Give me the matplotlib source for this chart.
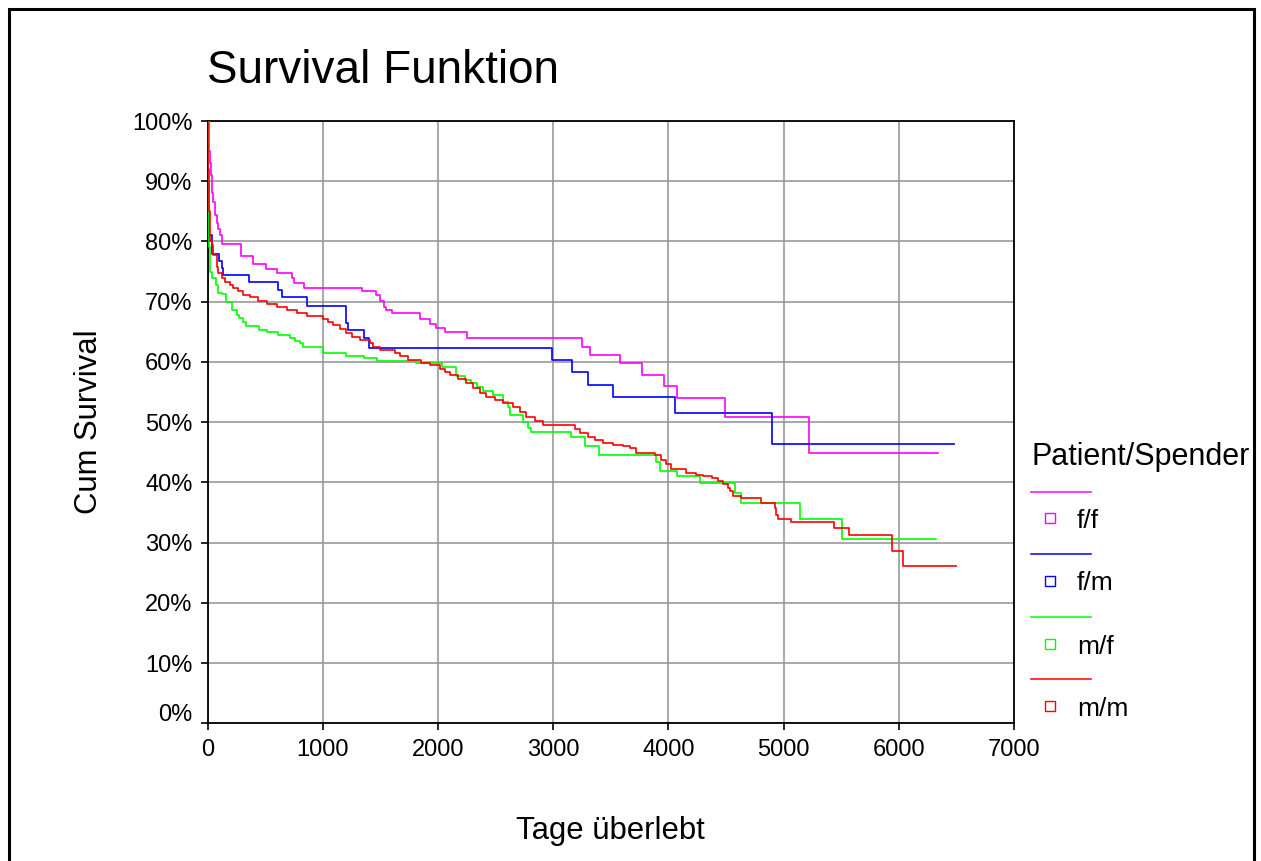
import matplotlib
matplotlib.use("Agg")
import matplotlib.pyplot as plt
from matplotlib.lines import Line2D
from matplotlib.patches import Rectangle
from matplotlib.transforms import ScaledTranslation

plt.rcParams['font.family'] = ['Liberation Sans', 'DejaVu Sans']

# ---- data (days, cumulative survival %) ----
ff_t = [0, 8, 18, 28, 40, 49, 60, 78, 92, 105, 120, 286, 390, 506, 604, 728, 749, 835,
        1341, 1457, 1500, 1530, 1547, 1596, 1841, 1928, 1986, 2064, 2252, 3249, 3316,
        3576, 3770, 3961, 4074, 4487, 5216, 6343]
ff_s = [100, 95, 93, 91, 88, 86.6, 84.4, 83, 82, 81, 79.5, 77.6, 76.2, 75.4, 74.7, 74.0, 73.1, 72.3,
        71.7, 71.1, 70.1, 69.2, 68.6, 68.1, 67.1, 66.3, 65.6, 64.9, 63.9, 62.5, 61.1,
        59.8, 57.8, 56.0, 54.0, 50.8, 44.8, 44.8]

fm_t = [0, 5, 15, 35, 101, 121, 135, 361, 613, 642, 864, 1197, 1215, 1356, 1402, 2992,
        3166, 3305, 3518, 4059, 4901, 6476]
fm_s = [100, 85, 81, 77.9, 76.7, 75.6, 74.4, 73.2, 72.0, 70.7, 69.3, 66.5, 65.3, 63.9, 62.3, 60.4,
        58.4, 56.2, 54.2, 51.5, 46.4, 46.4]

mf_t = [0, 4, 8, 14, 22, 35, 72, 92, 121, 159, 208, 251, 274, 303, 332, 448, 512, 613, 714,
        757, 801, 830, 997, 1200, 1356, 1471, 1807, 2030, 2154, 2230, 2290, 2340, 2391, 2478,
        2565, 2610, 2628, 2738, 2780, 2810, 3157, 3273, 3397, 3895, 3929, 4073, 4270, 4580,
        4632, 5138, 5508, 6323]
mf_s = [100, 90, 84, 79, 75, 73.9, 72.8, 71.5, 71.3, 70.0, 68.6, 67.8, 67.3, 66.7, 65.9, 65.3,
        64.9, 64.5, 63.9, 63.5, 63.1, 62.5, 61.5, 61.0, 60.6, 60.2, 59.8, 59.2, 57.6, 57.0, 56.5,
        55.9, 55.2, 54.5, 53.4, 52.5, 51.2, 50.1, 49.0, 48.4, 47.5, 46.1, 44.6, 43.4, 41.9, 41.0,
        39.9, 38.2, 36.6, 33.9, 30.6, 30.6]

mm_t = [0, 5, 10, 20, 35, 49, 78, 92, 121, 150, 193, 222, 266, 309, 367, 439, 512, 598, 685,
        772, 859, 1003, 1046, 1090, 1148, 1205, 1249, 1321, 1408, 1436, 1494, 1624, 1667,
        1739, 1855, 1927, 2014, 2058, 2101, 2173, 2240, 2300, 2362, 2420, 2492, 2565, 2651,
        2709, 2767, 2839, 2911, 3186, 3229, 3302, 3360, 3432, 3519, 3605, 3663, 3721, 3880,
        3938, 3981, 4025, 4155, 4242, 4300, 4380, 4429, 4473, 4516, 4537, 4560, 4632, 4805,
        4921, 4935, 4950, 5066, 5441, 5571, 5940, 6033, 6496]
mm_s = [100, 92, 85, 80, 79.4, 77.8, 75.8, 74.7, 73.9, 73.3, 72.8, 72.2, 71.8, 71.1, 70.7,
        70.1, 69.6, 69.1, 68.6, 68.2, 67.7, 67.1, 66.7, 66.2, 65.4, 64.8, 64.1, 63.7, 63.2,
        62.5, 62.0, 61.4, 60.9, 60.3, 59.9, 59.5, 58.9, 58.4, 57.8, 57.1, 56.5, 55.6, 54.9,
        54.2, 53.7, 53.1, 52.5, 51.7, 50.9, 50.2, 49.5, 48.9, 48.2, 47.6, 47.0, 46.5, 46.2,
        46.0, 45.7, 44.9, 44.6, 43.7, 43.0, 42.3, 41.6, 41.2, 41.0, 40.7, 40.2, 39.7, 39.0,
        38.5, 37.8, 37.4, 36.6, 35.7, 34.6, 34.0, 33.5, 32.4, 31.2, 28.6, 26.1, 26.1]

series_labels = ['f/f', 'f/m', 'm/f', 'm/m']
series_colors = ['#FF00FF', '#0000FF', '#00FF00', '#FF0000']
x_ticks = [0, 1000, 2000, 3000, 4000, 5000, 6000, 7000]
y_ticks = [0, 10, 20, 30, 40, 50, 60, 70, 80, 90, 100]
y_tick_labels = [f'{v}%' for v in y_ticks]

W, H = 1261, 861
fig = plt.figure(figsize=(W / 100, H / 100), dpi=100)
ax = fig.add_axes([207.7 / W, 1 - 723.3 / H, (1014 - 207.7) / W, (723.3 - 121) / H])

for (t, s), c in zip([(ff_t, ff_s), (fm_t, fm_s), (mf_t, mf_s), (mm_t, mm_s)], series_colors):
    ax.step(t, s, where='post', color=c, lw=1.2, zorder=3)

ax.set_xlim(0, 7000)
ax.set_ylim(0, 100)
ax.set_xticks(x_ticks)
ax.set_yticks(y_ticks)
ax.set_yticklabels(y_tick_labels)
ax.grid(True, color='#999999', lw=1.2)
ax.set_axisbelow(True)
for sp in ax.spines.values():
    sp.set_color('black')
    sp.set_linewidth(1.3)
ax.tick_params(direction='out', length=5, width=1.2, labelsize=17, pad=6, colors='black')

# shift "0%" label up like the reference
lbl0 = ax.get_yticklabels()[0]
lbl0.set_transform(lbl0.get_transform() + ScaledTranslation(0, 11 / 100, fig.dpi_scale_trans))

ax.set_xlabel('Tage überlebt', fontsize=22.3, labelpad=40)
ax.set_ylabel('Cum Survival', fontsize=22.3, labelpad=20)

fig.text(207 / W, 1 - 71 / H, 'Survival Funktion', fontsize=33, ha='left', va='center')

# legend (manual layout)
fig.text(1031 / W, 1 - 457 / H, 'Patient/Spender', fontsize=22, ha='left', va='center')
line_y = [491.7, 554, 617.3, 679.3]
for lab, c, ly in zip(series_labels, series_colors, line_y):
    fig.add_artist(Line2D([1031 / W, 1091 / W], [1 - ly / H, 1 - ly / H], color=c, lw=1.1,
                          transform=fig.transFigure))
    my = ly + 26.5
    fig.add_artist(Line2D([1050 / W], [1 - my / H], marker='s', markersize=6.5, mfc='white',
                          mec=c, mew=1.0, lw=0, transform=fig.transFigure))
    fig.text(1077 / W, 1 - (my + 3) / H, lab, fontsize=19, ha='left', va='center')

# outer frame
fig.add_artist(Rectangle((8.5 / W, -0.05), (1254 - 8.5) / W, 1.05 - 9.5 / H, fill=False,
                         edgecolor='black', lw=2.2, transform=fig.transFigure, clip_on=False))

fig.savefig('out.png', dpi=100, facecolor='white')
